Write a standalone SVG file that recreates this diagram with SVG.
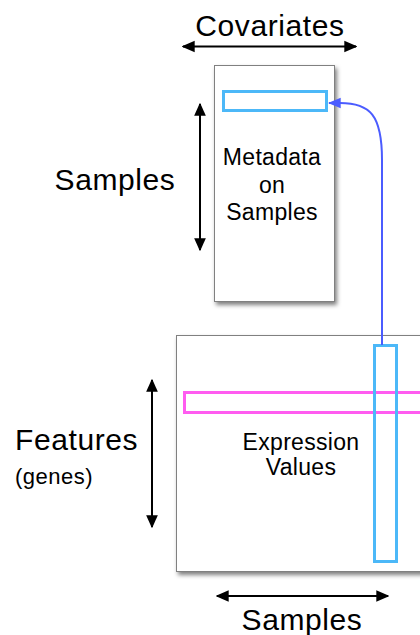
<svg xmlns="http://www.w3.org/2000/svg" width="420" height="635" viewBox="0 0 420 635">
<style>
text{font-family:"Liberation Sans",Arial,sans-serif;fill:#000}
.big{font-size:30px;letter-spacing:0.6px}
.mid{font-size:23px;letter-spacing:0.3px}
.box{fill:#fff;stroke:#808080;stroke-width:1}
.dim{stroke:#000;stroke-width:2;fill:none;marker-start:url(#ah);marker-end:url(#ah)}
.sel{fill:none;stroke-width:3}
</style>
<defs>
<marker id="ah" viewBox="0 0 10 10" refX="9" refY="5" markerWidth="13" markerHeight="13" orient="auto-start-reverse" markerUnits="userSpaceOnUse">
<path d="M0,0.5 L10,5 L0,9.5 z" fill="#000"/>
</marker>
<marker id="bh" viewBox="0 0 10 10" refX="9" refY="5" markerWidth="13" markerHeight="13" orient="auto" markerUnits="userSpaceOnUse">
<path d="M0,1 L10,5 L0,9 z" fill="#4b5cff"/>
</marker>
<filter id="sh" x="-10%" y="-10%" width="130%" height="130%">
<feDropShadow dx="2" dy="3" stdDeviation="2" flood-color="#000" flood-opacity="0.5"/>
</filter>
</defs>
<g id="metadata">
<rect class="box" x="214.5" y="65.5" width="120" height="236" filter="url(#sh)"/>
<rect class="sel" x="223.5" y="91.5" width="103" height="19" stroke="#4cb8f8"/>
<text class="mid" x="272" y="165" text-anchor="middle">Metadata</text>
<text class="mid" x="272" y="193" text-anchor="middle">on</text>
<text class="mid" x="272" y="220" text-anchor="middle">Samples</text>
</g>
<g id="expression">
<rect class="box" x="176.5" y="335.5" width="260" height="236" filter="url(#sh)"/>
<rect class="sel" x="184.5" y="392.5" width="240" height="20" stroke="#ff5cf0"/>
<rect class="sel" x="374.5" y="345.5" width="22" height="216" stroke="#4cb8f8"/>
<text class="mid" x="301" y="450" text-anchor="middle">Expression</text>
<text class="mid" x="301" y="475" text-anchor="middle">Values</text>
</g>
<g id="labels">
<text class="big" x="270" y="36" text-anchor="middle">Covariates</text>
<text class="big" x="115" y="190" text-anchor="middle">Samples</text>
<text class="big" x="15" y="450">Features</text>
<text x="15" y="484" font-size="22" letter-spacing="0.5">(genes)</text>
<text class="big" x="302" y="630" text-anchor="middle">Samples</text>
</g>
<g id="connectors">
<line class="dim" x1="183" y1="46.5" x2="356" y2="46.5"/>
<line class="dim" x1="200" y1="104" x2="200" y2="250"/>
<line class="dim" x1="152" y1="380" x2="152" y2="527"/>
<line class="dim" x1="217" y1="596" x2="388" y2="596"/>
<path d="M382,345 L382,160 C382,115 370,103 340,103 L329,103" fill="none" stroke="#4b5cff" stroke-width="2" marker-end="url(#bh)"/>
</g>
</svg>
